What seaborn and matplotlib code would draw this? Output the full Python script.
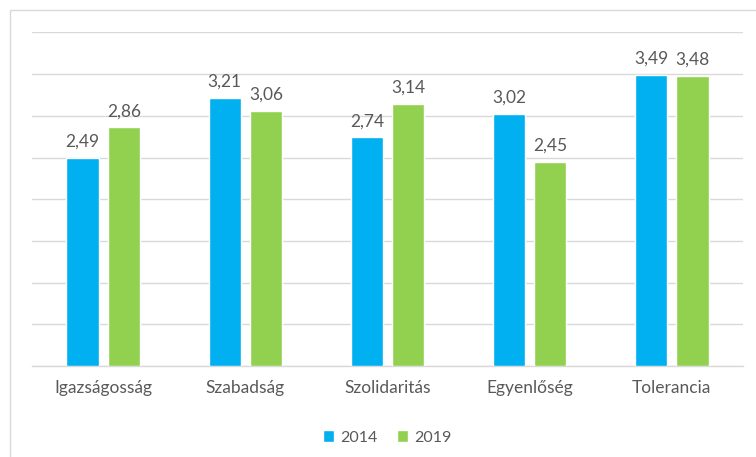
import matplotlib
matplotlib.use("Agg")
import matplotlib.pyplot as plt
import seaborn as sns
import pandas as pd
from matplotlib.patches import Rectangle

kategoriak = ["Igazságosság", "Szabadság", "Szolidaritás", "Egyenlőség", "Tolerancia"]
ertek_2014 = [2.49, 3.21, 2.74, 3.02, 3.49]
ertek_2019 = [2.86, 3.06, 3.14, 2.45, 3.48]
evek = ["2014", "2019"]
szinek = ["#00B0F0", "#92D050"]

df = pd.DataFrame({
    "kategoria": kategoriak * 2,
    "ev": [evek[0]] * len(kategoriak) + [evek[1]] * len(kategoriak),
    "ertek": ertek_2014 + ertek_2019,
})

sns.set_style("white")
plt.rcParams["font.family"] = ["Lato", "DejaVu Sans"]
szurke = "#595959"

fig = plt.figure(figsize=(7.56, 4.57), dpi=100)
ax = fig.add_axes([32 / 756, 91 / 457, (743 - 32) / 756, (366 - 32.4) / 457])

sns.barplot(data=df, x="kategoria", y="ertek", hue="ev", palette=szinek,
            width=0.58, gap=0.22, saturation=1, ax=ax, zorder=3)

ax.set_ylim(0, 4)
ax.set_xlim(-0.5, 4.5)
ax.set_yticks([i * 0.5 for i in range(9)])
ax.set_yticklabels([])
ax.grid(axis="y", color="#d9d9d9", linewidth=1, zorder=0)
ax.tick_params(axis="both", length=0)
ax.tick_params(axis="x", pad=10, labelsize=12.5, labelcolor=szurke)
ax.set_xlabel("")
ax.set_ylabel("")
for s in ["top", "right", "left"]:
    ax.spines[s].set_visible(False)
ax.spines["bottom"].set_color("#d9d9d9")
ax.spines["bottom"].set_linewidth(1)

for cont in ax.containers:
    ax.bar_label(cont, labels=[f"{v:.2f}".replace(".", ",") for v in cont.datavalues],
                 padding=6, fontsize=12.5, color=szurke)

ax.legend(loc="upper center", bbox_to_anchor=(0.5, -0.15), ncol=2, frameon=False,
          fontsize=11.5, labelcolor=szurke, handlelength=0.7, handleheight=0.7,
          handletextpad=0.4, columnspacing=1.2)

fig.patches.append(Rectangle((9.5 / 756, -0.1), 1.2, (457 - 9.5) / 457 + 0.1,
                             transform=fig.transFigure, fill=False,
                             edgecolor="#d9d9d9", linewidth=1))

fig.savefig("out.png", dpi=100)
